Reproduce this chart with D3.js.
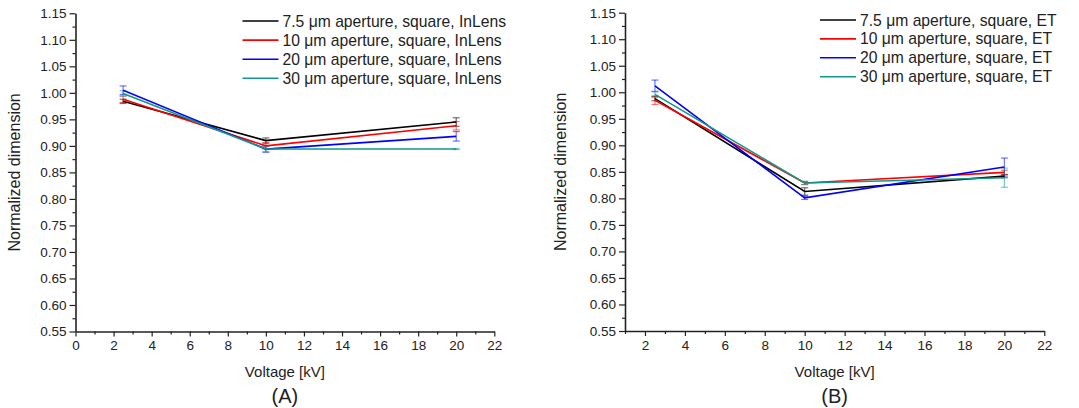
<!DOCTYPE html>
<html>
<head>
<meta charset="utf-8">
<script src="https://cdn.jsdelivr.net/npm/d3@7"></script>
<style>
  body { margin: 0; background: #fff; }
  svg { font-family: Arial, "Liberation Sans", sans-serif; }
  .axis path, .axis line { stroke: #222; }
  .axis text { fill: #222; font-size: 13.5px; }
</style>
</head>
<body>
<svg id="chart" width="1079" height="408"></svg>
<script>
// Data
const voltages = [2.5, 10, 20];
const colors = ['#000000', '#ff0000', '#0000ff', '#12988a'];
const apertures = ['7.5', '10', '20', '30'];

const inLensValues = [
  [0.984, 0.910, 0.945],
  [0.988, 0.900, 0.938],
  [1.005, 0.894, 0.918],
  [0.999, 0.894, 0.894]
];
const inLensErrors = [
  [0.004, 0.005, 0.008],
  [0.006, 0.006, 0.008],
  [0.008, 0.006, 0.009],
  [0.005, 0.005, 0.001]
];

const etValues = [
  [0.988, 0.813, 0.842],
  [0.985, 0.829, 0.849],
  [1.012, 0.801, 0.859],
  [0.996, 0.829, 0.839]
];
const etErrors = [
  [0.004, 0.007, 0.003],
  [0.008, 0.003, 0.004],
  [0.011, 0.003, 0.017],
  [0.006, 0.003, 0.018]
];

const yTicks = d3.range(0.55, 1.151, 0.05);
const yMinor = d3.range(0.575, 1.15, 0.05);

const svg = d3.select('#chart');

// draws one panel
const drawPanel = (opts) => {
  const { xDomain, xRange, yRange, values, errors, detector, xTicks, xMinor,
          yLabelX, letter, legendX, legendY, legendStep } = opts;

  const x = d3.scaleLinear().domain(xDomain).range(xRange);
  const y = d3.scaleLinear().domain([0.55, 1.15]).range(yRange);

  const g = svg.append('g');

  // minor ticks
  g.append('g')
      .attr('class', 'axis')
      .attr('transform', `translate(0,${yRange[0]})`)
    .call(d3.axisBottom(x).tickValues(xMinor).tickSize(3).tickFormat(''))
    .call(s => s.select('.domain').remove());
  g.append('g')
      .attr('class', 'axis')
      .attr('transform', `translate(${xRange[0]},0)`)
    .call(d3.axisLeft(y).tickValues(yMinor).tickSize(3).tickFormat(''))
    .call(s => s.select('.domain').remove());

  // major axes
  const xAxis = g.append('g')
      .attr('class', 'axis')
      .attr('transform', `translate(0,${yRange[0]})`)
    .call(d3.axisBottom(x).tickValues(xTicks).tickSize(5).tickSizeOuter(0).tickPadding(4).tickFormat(d3.format('d')));
  xAxis.select('.domain').attr('stroke-width', 1.6);

  const yAxis = g.append('g')
      .attr('class', 'axis')
      .attr('transform', `translate(${xRange[0]},0)`)
    .call(d3.axisLeft(y).tickValues(yTicks).tickSize(6).tickSizeOuter(0).tickPadding(3).tickFormat(d3.format('.2f')));
  yAxis.select('.domain').attr('stroke-width', 1.6);
  g.selectAll('.axis line').attr('stroke-width', 1.2);

  // axis titles
  g.append('text')
      .attr('transform', `translate(${yLabelX},${(yRange[0] + yRange[1]) / 2}) rotate(-90)`)
      .attr('text-anchor', 'middle')
      .attr('dominant-baseline', 'middle')
      .attr('font-size', 16)
      .attr('fill', '#222')
      .text('Normalized dimension');

  const cx = (xRange[0] + xRange[1]) / 2;
  g.append('text')
      .attr('x', cx)
      .attr('y', 377)
      .attr('text-anchor', 'middle')
      .attr('font-size', 15)
      .attr('fill', '#222')
      .text('Voltage [kV]');

  g.append('text')
      .attr('x', cx)
      .attr('y', 403)
      .attr('text-anchor', 'middle')
      .attr('font-size', 20)
      .attr('fill', '#222')
      .text(letter);

  // lines and error bars
  const line = d3.line()
    .x((d, i) => x(voltages[i]))
    .y(d => y(d));

  values.forEach((series, s) => {
    const bars = g.append('g')
        .attr('stroke', colors[s])
        .attr('stroke-opacity', 0.55)
        .attr('stroke-width', 1.2);
    series.forEach((v, i) => {
      const e = errors[s][i];
      const px = x(voltages[i]);
      bars.append('line')
          .attr('x1', px).attr('x2', px)
          .attr('y1', y(v - e)).attr('y2', y(v + e));
      [v - e, v + e].forEach(end => {
        bars.append('line')
            .attr('x1', px - 3.5).attr('x2', px + 3.5)
            .attr('y1', y(end)).attr('y2', y(end));
      });
    });
  });

  values.forEach((series, s) => {
    g.append('path')
        .datum(series)
        .attr('fill', 'none')
        .attr('stroke', colors[s])
        .attr('stroke-width', 1.6)
        .attr('d', line);
  });

  // legend
  const legend = g.append('g')
    .selectAll('g')
    .data(apertures)
    .join('g')
      .attr('transform', (d, i) => `translate(${legendX},${legendY + i * legendStep})`);

  legend.append('line')
      .attr('x1', 0).attr('x2', 36)
      .attr('stroke', (d, i) => colors[i])
      .attr('stroke-width', 1.6);

  legend.append('text')
      .attr('x', 40)
      .attr('dy', '0.35em')
      .attr('font-size', 15.7)
      .attr('fill', '#222')
      .text(d => `${d} \u03bcm aperture, square, ${detector}`);
};

drawPanel({
  xDomain: [0, 22],
  xRange: [75.5, 494.3],
  yRange: [331.5, 13.3],
  values: inLensValues,
  errors: inLensErrors,
  detector: 'InLens',
  xTicks: d3.range(0, 23, 2),
  xMinor: d3.range(1, 22, 2),
  yLabelX: 16,
  letter: '(A)',
  legendX: 242.5,
  legendY: 21,
  legendStep: 19.1
});

drawPanel({
  xDomain: [1, 22],
  xRange: [625, 1044.3],
  yRange: [331, 12.7],
  values: etValues,
  errors: etErrors,
  detector: 'ET',
  xTicks: d3.range(2, 23, 2),
  xMinor: d3.range(1, 22, 2),
  yLabelX: 562,
  letter: '(B)',
  legendX: 820,
  legendY: 20,
  legendStep: 18.9
});
</script>
</body>
</html>
